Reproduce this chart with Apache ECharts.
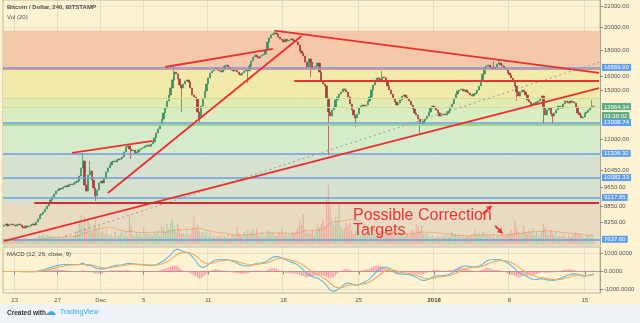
<!DOCTYPE html>
<html><head><meta charset="utf-8">
<script src="https://cdn.jsdelivr.net/npm/echarts@6/dist/echarts.min.js"></script>
<style>html,body{margin:0;padding:0;background:#fdf3d2}#c{width:640px;height:323px}</style>
</head><body><div id="c"></div><script>
// ---------- DATA ----------
const startTime = Date.UTC(2017, 10, 22, 0, 0); // first 4h candle
const slotCount = 333;
const firstOpen = 8100;
const closes = [
8144,8181,8107,8144,8181,8144,8107,8144,8181,8144,
8070,8034,8107,8070,8107,8144,8181,8144,8255,8369,
8522,8561,8639,8757,8877,8999,9122,9247,9373,9502,
9545,9610,9590,9676,9720,9690,9764,9808,9780,9853,
9898,9943,10171,10547,10887,9764,9502,10217,10405,9988,
9632,9289,9545,9853,9943,9853,10079,10358,10547,10691,
10838,10887,10838,10937,10987,10987,11087,11341,11601,11654,
11496,11392,11444,11290,11341,11444,11496,11549,11601,11654,
11707,11640,11760,11868,12085,12362,12589,12877,13173,13536,
13846,14294,14688,15162,15723,16305,16157,15795,15370,15162,
15440,15652,15723,15581,15162,14688,14556,14424,13598,13233,
13972,14490,14958,15440,15867,16231,16379,16527,16602,16454,
16379,16305,16454,16754,16830,16678,16527,16454,16379,16420,
16305,16157,16084,16231,16379,16454,16400,16754,17139,17452,
17611,17452,17373,17531,17611,17692,18016,18680,19025,19286,
19372,19460,19372,19112,18939,18850,18700,18900,18765,18850,
18939,18850,18765,18680,18430,17934,17772,17531,17061,16678,
17294,17061,16602,16678,16754,16984,16305,15652,15440,15300,
14490,13598,13353,13722,13909,14359,14556,14756,14890,15094,
15026,14890,14556,14101,13722,13414,13233,13475,13846,13972,
14036,13972,14036,14294,14556,15026,15370,15723,15867,15795,
15723,15939,15880,15581,15300,15026,14756,14424,14229,14036,
14165,14359,14622,14688,14556,14424,14294,14036,13784,13536,
13414,13173,12877,12819,13054,13173,13353,13598,13846,13972,
13909,13722,13536,13353,13414,13475,13420,13536,13660,13909,
14101,14490,14756,14958,15026,15090,14958,15026,14900,14823,
14688,14622,14756,14823,15026,15300,15723,16157,16602,16754,
16830,16678,16602,16540,16678,16907,16984,16830,16754,16602,
16454,16231,16084,15867,15652,15300,14890,14622,14890,15026,
14890,14688,14359,14229,14036,14101,14165,14229,14294,14424,
14622,13846,13414,13722,13846,13475,13353,13536,13722,13972,
13909,13850,14101,14294,14229,14165,14294,14240,14165,13909,
13536,13414,13233,13293,13536,13598,13722,13846,13972,13964.34
];
const wickHighs = [[44,11300],[48,10900],[95,16680],[137,16900],[151,19666],[211,16380],[273,17100],[276,17250],[328,14360]];
const wickLows = [[51,9080],[71,11000],[99,13600],[109,12950],[136,15500],[171,15900],[181,11160],[196,12700],[232,12300],[286,14300],[301,12800],[306,12900]];
const volumes = [
2000,1500,2500,2000,3000,1500,2000,2500,1500,2000,
2500,2000,3000,1500,2000,2500,2000,3000,2500,3500,
4500,4000,5500,3500,5000,4000,4500,3000,4000,3500,
3000,4000,2500,3500,3000,4500,2500,3500,3000,4000,
5000,7000,11000,14500,9000,13500,7500,13000,10000,6000,
9000,11500,7000,9500,5500,6500,4500,7500,5000,4000,
5000,3500,6000,4000,4500,5500,7000,5000,6500,4000,
14500,9000,5000,4000,6000,4500,5500,3500,8500,5000,
5500,4500,5000,4000,6000,5000,7000,4500,9000,8000,
6500,10000,7500,11000,12500,9000,6000,10000,7000,5000,
5500,4500,6500,4000,5000,8000,13500,7000,9500,6500,
5000,6000,4500,7000,4000,5500,3500,4500,3000,4000,
3500,4500,3000,4000,3500,5000,3000,4000,4500,3500,
9000,5500,4500,4000,6000,5000,7000,4500,6500,7500,
5000,8000,4500,4000,6000,3500,4500,7000,6000,5000,
5500,4500,4000,6000,5000,8500,4500,5500,4000,5000,
4500,6000,5000,7000,8500,11500,9500,15000,7500,5500,
6000,5000,7000,4500,6500,9500,8000,10000,12000,9000,
22000,29500,19000,12500,9500,13500,11000,20000,8500,7000,
8000,11000,9500,10500,7000,5000,6500,5500,6000,4500,
5500,5000,6000,4500,6500,5500,5000,7000,4500,6000,
5000,6000,4000,5500,4500,6000,5000,6500,4500,4000,
5000,4500,5500,4000,6000,5000,4500,6500,7500,5500,
10000,8500,7000,9000,5000,4500,5500,4000,3500,4500,
3000,3500,4000,3000,3500,4500,4000,5000,3500,4500,
6000,4500,5500,4000,5000,3500,4500,3000,4000,3500,
4000,5000,3500,7500,4500,5500,4000,6000,4500,5000,
4000,4500,3500,5000,3000,4000,4500,3500,5500,4000,
4500,5000,6000,7000,5500,11500,8000,6000,5000,6500,
9000,6000,5000,7000,5500,8000,4500,6000,4000,5000,
6500,10000,8500,6000,5000,7000,5500,4500,6000,4000,
4500,3500,5000,4000,3000,4500,3500,4000,5000,6000,
4500,5500,4000,3500,3000,4000,4500,3500,5000,3000
];
const priceTicks = [22000,20000,18000,16000,15000,12000,10450,9650,8850,8250];
const macdTicks = [-1000,0,1000];
const levelLines = [16669.90,13008.74,11308.32,10082.33,9217.85,7637.60];
const lastPrice = 13964.34;
const countdown = '03:38:02';
const fibBands = [[19666,16454],[16454,14424],[14424,13909],[13909,13008.74],[13008.74,11308.32],[11308.32,9000],[9000,7436]];
const fibLines = [16454,14424,13909,12900];
const supportLine = [[17.4,9000],[332,9000]];
const trendLines = [
  [[0,7568],[332,15150]],
  [[58.1,9416],[166.3,19199]],
  [[151.2,19666],[332,16240]],
  [[38,11290],[82.6,11922]],
  [[89.9,16678],[149.5,18098]],
  [[162.4,15700],[332,15700]]
];
const dottedLine = [[34.1,7742],[332,17040]];
const arrows = [[[267.2,8561],[271.7,8877]],[[274,8107],[277.8,7847]]];
const annotation = ['Possible Correction','Targets'];
const dateLabels = [['2017-11-23','23'],['2017-11-27','27'],['2017-12-01','Dec'],['2017-12-05','5'],['2017-12-11','11'],['2017-12-18','18'],['2017-12-25','25'],['2018-01-01','2018'],['2018-01-08','8'],['2018-01-15','15']];
const priceRange = [7436, 22603];
const macdRange = [-1180, 1346];

// ---------- BUILD ----------
const L = Math.log;
const H4 = 4*3600*1000;
const cats = [], labelAt = {};
const dl = {}; dateLabels.forEach(d => dl[d[0]] = d[1]);
for (let i = 0; i < slotCount; i++) {
  const t = new Date(startTime + i*H4);
  cats.push(t.toISOString());
  const key = t.toISOString().slice(0,10);
  if (t.getUTCHours() === 0 && dl[key] !== undefined) labelAt[i] = dl[key];
}
const isLabel = (idx) => labelAt[idx] !== undefined;

const opens = closes.map((c,i) => i === 0 ? firstOpen : closes[i-1]);
const highs = closes.map((c,i) => Math.max(c, opens[i]));
const lows = closes.map((c,i) => Math.min(c, opens[i]));
wickHighs.forEach(([i,h]) => highs[i] = Math.max(highs[i], h));
wickLows.forEach(([i,l]) => lows[i] = Math.min(lows[i], l));
const candleData = closes.map((c,i) => [L(opens[i]), L(c), L(lows[i]), L(highs[i])]);

const UP = '#3a8f60', DOWN = '#a53d37';
const volData = volumes.map((v,i) => ({value: v, itemStyle: {color: closes[i] >= opens[i] ? 'rgba(95,180,130,0.36)' : 'rgba(232,100,110,0.36)'}}));
const volMA = volumes.map((v,i) => { const s = volumes.slice(Math.max(0,i-19), i+1); return s.reduce((a,b)=>a+b,0)/s.length; });

function ema(arr, n) { const k = 2/(n+1); let e; return arr.map((v,i) => (e = i === 0 ? v : v*k + e*(1-k))); }
const e12 = ema(closes, 12), e26 = ema(closes, 26);
const macd = closes.map((c,i) => e12[i] - e26[i]);
const signal = ema(macd, 9);
const hist = macd.map((m,i) => m - signal[i]);

const bandColors = ['#f5c8aa','#f1eaab','#e1ebb2','#d9edc0','#d5ecca','#d5e2cf','#e9dbc1'];
const fibLineColors = ['#ee8f86','#c8df9e','#c8df9e','#9fd38c'];
const FONT = '"Liberation Sans", Arial, sans-serif';
const axisTxt = {fontSize: 6, color: '#555', fontFamily: FONT};

const chart = echarts.init(document.getElementById('c'), null, {renderer: 'canvas'});
chart.setOption({
  animation: false,
  backgroundColor: '#fdf3d2',
  grid: [
    {left: 3, right: 40, top: 0, height: 245, show: true, borderColor: '#bfb8a3', borderWidth: 1},
    {left: 3, right: 40, top: 184, height: 60},
    {left: 3, right: 40, top: 247, height: 46, show: true, borderColor: '#bfb8a3', borderWidth: 1}
  ],
  xAxis: [
    {type: 'category', gridIndex: 0, data: cats, axisLine: {show: false}, axisTick: {show: false}, axisLabel: {show: false},
      splitLine: {show: true, interval: isLabel, lineStyle: {color: 'rgba(175,175,175,0.3)'}}},
    {type: 'category', gridIndex: 1, data: cats, show: false},
    {type: 'category', gridIndex: 2, data: cats,
      axisLine: {show: true, lineStyle: {color: '#aaa393'}},
      axisTick: {show: true, interval: isLabel, alignWithLabel: true, length: 3, lineStyle: {color: '#888'}},
      axisLabel: Object.assign({interval: isLabel, margin: 4,
        formatter: (v, idx) => labelAt[idx] === '2018' ? '{b|2018}' : labelAt[idx],
        rich: {b: {fontWeight: 'bold', fontSize: 6, color: '#444', fontFamily: FONT}}}, axisTxt),
      splitLine: {show: true, interval: isLabel, lineStyle: {color: 'rgba(175,175,175,0.3)'}}}
  ],
  yAxis: [
    {type: 'value', gridIndex: 0, position: 'right', min: L(priceRange[0]), max: L(priceRange[1]),
      axisLine: {show: true, lineStyle: {color: '#aaa393'}},
      axisTick: {show: true, length: 3, customValues: priceTicks.map(L), lineStyle: {color: '#888'}},
      axisLabel: Object.assign({customValues: priceTicks.map(L), margin: 4, formatter: v => Math.round(Math.exp(v)).toFixed(2)}, axisTxt),
      splitLine: {show: true, lineStyle: {color: 'rgba(175,175,175,0.22)'}}},
    {type: 'value', gridIndex: 1, min: 0, max: 30000, show: false},
    {type: 'value', gridIndex: 2, position: 'right', min: macdRange[0], max: macdRange[1],
      axisLine: {show: true, lineStyle: {color: '#aaa393'}},
      axisTick: {show: true, length: 3, customValues: macdTicks, lineStyle: {color: '#888'}},
      axisLabel: Object.assign({customValues: macdTicks, margin: 4, formatter: v => v.toFixed(4)}, axisTxt),
      splitLine: {show: true, lineStyle: {color: 'rgba(175,175,175,0.3)'}}}
  ],
  series: [
    { // fib bands
      type: 'line', xAxisIndex: 0, yAxisIndex: 0, data: [], z: 0, silent: true,
      markArea: {silent: true, data: fibBands.map((b,k) => [{yAxis: L(b[0]), itemStyle: {color: bandColors[k]}}, {yAxis: L(b[1])}])},
      markLine: {silent: true, symbol: ['none','none'], animation: false,
        data: fibLines.map((p,k) => ({yAxis: L(p), lineStyle: {color: fibLineColors[k], width: k === 3 ? 2 : 1, type: 'solid'}, label: {show: false}}))}
    },
    { // volume
      type: 'bar', xAxisIndex: 1, yAxisIndex: 1, data: volData, barWidth: '70%', z: 1, silent: true
    },
    { // volume MA
      type: 'line', xAxisIndex: 1, yAxisIndex: 1, data: volMA, showSymbol: false, z: 1, silent: true,
      lineStyle: {color: 'rgba(235,140,70,0.55)', width: 1}
    },
    { // level lines with labels
      type: 'line', xAxisIndex: 0, yAxisIndex: 0, data: [], z: 1, silent: true,
      markLine: {silent: true, symbol: ['none','none'], animation: false,
        data: levelLines.map(v => ({yAxis: L(v), lineStyle: {color: '#6a9fe0', width: 1.5, type: 'solid'},
          label: {show: true, position: 'end', distance: 2, formatter: v.toFixed(2), color: '#fff', backgroundColor: '#5e9cef',
            padding: [1,2,0,2], fontSize: 6, fontFamily: FONT}}))
      }
    },
    { // last price + countdown label
      type: 'line', xAxisIndex: 0, yAxisIndex: 0, data: [], z: 6, silent: true,
      markLine: {silent: true, symbol: ['none','none'], animation: false,
        data: [{yAxis: L(lastPrice), lineStyle: {color: 'rgba(0,0,0,0)', width: 0.1},
          label: {show: true, position: 'end', distance: 2, offset: [0, 4], formatter: '{a|' + lastPrice.toFixed(2) + '}\n{a|' + countdown + '}',
            rich: {a: {color: '#fff', backgroundColor: '#5caa7c', padding: [1,2,0,2], fontSize: 6, fontFamily: FONT, lineHeight: 9}}}}]
      }
    },
    { // candles
      type: 'candlestick', xAxisIndex: 0, yAxisIndex: 0, data: candleData, barWidth: 1.8, z: 2, silent: true,
      itemStyle: {color: UP, color0: DOWN, borderColor: UP, borderColor0: DOWN, borderWidth: 0.7}
    },
    { // trend lines
      type: 'line', xAxisIndex: 0, yAxisIndex: 0, data: [], z: 4, silent: true,
      markLine: {silent: true, symbol: ['none','none'], animation: false, label: {show: false},
        data: []
          .concat([[{coord: [dottedLine[0][0], L(dottedLine[0][1])], lineStyle: {color: '#9a9a9a', width: 1, type: [2,3]}}, {coord: [dottedLine[1][0], L(dottedLine[1][1])]}]])
          .concat(trendLines.map(t => [{coord: [t[0][0], L(t[0][1])], lineStyle: {color: '#ee2f2f', width: 1.8, type: 'solid'}}, {coord: [t[1][0], L(t[1][1])]}]))
          .concat([[{coord: [supportLine[0][0], L(supportLine[0][1])], lineStyle: {color: '#c8322d', width: 2.2, type: 'solid'}}, {coord: [supportLine[1][0], L(supportLine[1][1])]}]])
      }
    },
    { // arrows
      type: 'line', xAxisIndex: 0, yAxisIndex: 0, data: [], z: 5, silent: true,
      markLine: {silent: true, symbol: ['none','arrow'], symbolSize: 5, animation: false, label: {show: false},
        data: arrows.map(a => [{coord: [a[0][0], L(a[0][1])], lineStyle: {color: '#ee2f2f', width: 1.8, type: 'solid'}}, {coord: [a[1][0], L(a[1][1])]}])}
    },
    { // MACD histogram
      type: 'bar', xAxisIndex: 2, yAxisIndex: 2, data: hist, barWidth: '70%', silent: true,
      itemStyle: {color: 'rgba(245,95,140,0.6)'}
    },
    { type: 'line', xAxisIndex: 2, yAxisIndex: 2, data: macd, showSymbol: false, silent: true, lineStyle: {color: '#5db9e0', width: 1.1}, z: 3 },
    { type: 'line', xAxisIndex: 2, yAxisIndex: 2, data: signal, showSymbol: false, silent: true, lineStyle: {color: '#f5a95e', width: 1.1}, z: 3 }
  ],
  graphic: [
    {type: 'text', x: 7, y: 4, z: 10, style: {text: 'Bitcoin / Dollar, 240, BITSTAMP', font: 'bold 6px ' + FONT, fill: '#4a4a4a'}},
    {type: 'text', x: 7, y: 14, z: 10, style: {text: 'Vol (20)', font: '6px ' + FONT, fill: '#555'}},
    {type: 'text', x: 7, y: 251, z: 10, style: {text: 'MACD (12, 26, close, 9)', font: '6px ' + FONT, fill: '#444'}},
    {type: 'text', x: 353, y: 208, z: 10, style: {text: annotation.join('\n'), font: '16px ' + FONT, fill: '#ee3434', lineHeight: 15}},
    {type: 'rect', z: 10, shape: {x: 0, y: 304, width: 640, height: 19}, style: {fill: '#eff2f6'}},
    {type: 'text', x: 7, y: 310, z: 11, style: {text: 'Created with', font: 'bold 6.5px ' + FONT, fill: '#333'}},
    {type: 'text', x: 45, y: 307, z: 11, style: {text: '\u2601', font: '11px "DejaVu Sans"', fill: '#3aa6e2'}},
    {type: 'text', x: 60, y: 309, z: 11, style: {text: 'TradingView', font: '7px ' + FONT, fill: '#3aa6e2'}}
  ]
});
</script></body></html>
